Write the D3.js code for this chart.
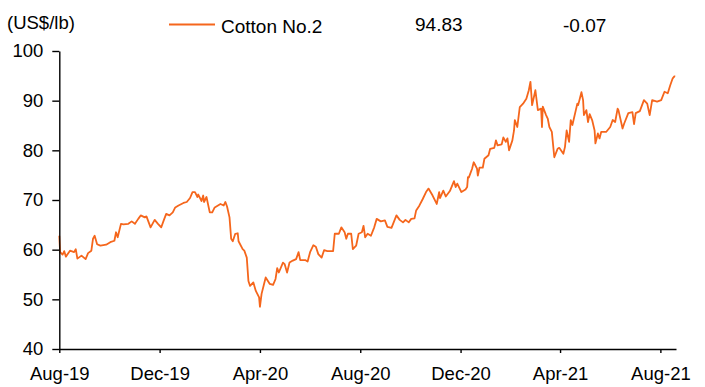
<!DOCTYPE html>
<html>
<head>
<meta charset="utf-8">
<script src="https://cdn.jsdelivr.net/npm/d3@7"></script>
<style>
  html, body { margin: 0; padding: 0; background: #fff; }
  svg { display: block; font-family: "Liberation Sans", Arial, sans-serif; }
</style>
</head>
<body>
<svg id="chart" width="705" height="387"></svg>
<script>
// Cotton No.2 front-month price, US cents per lb
const seriesName = "Cotton No.2";
const unitLabel = "(US$/lb)";

const dates = [
  "2019-08-01","2019-08-02","2019-08-05","2019-08-07","2019-08-09","2019-08-14","2019-08-19","2019-08-21","2019-08-23","2019-08-28",
  "2019-09-02","2019-09-05","2019-09-09","2019-09-11","2019-09-13","2019-09-16","2019-09-20","2019-09-27","2019-10-02","2019-10-07",
  "2019-10-09","2019-10-11","2019-10-15","2019-10-18","2019-10-24","2019-10-28","2019-11-01","2019-11-05","2019-11-08","2019-11-13",
  "2019-11-15","2019-11-20","2019-11-25","2019-11-29","2019-12-03","2019-12-06","2019-12-09","2019-12-13","2019-12-17","2019-12-20",
  "2019-12-24","2019-12-30","2020-01-03","2020-01-07","2020-01-10","2020-01-13","2020-01-16","2020-01-17","2020-01-21","2020-01-23",
  "2020-01-24","2020-01-27","2020-01-31","2020-02-03","2020-02-06","2020-02-10","2020-02-13","2020-02-17","2020-02-19","2020-02-21",
  "2020-02-24","2020-02-26","2020-02-28","2020-03-02","2020-03-05","2020-03-06","2020-03-11","2020-03-13","2020-03-16","2020-03-18",
  "2020-03-20","2020-03-24","2020-03-27","2020-03-31","2020-04-01","2020-04-03","2020-04-06","2020-04-08","2020-04-13","2020-04-17",
  "2020-04-20","2020-04-22","2020-04-24","2020-04-29","2020-05-01","2020-05-04","2020-05-07","2020-05-11","2020-05-15","2020-05-18",
  "2020-05-20","2020-05-26","2020-05-29","2020-06-01","2020-06-05","2020-06-08","2020-06-11","2020-06-15","2020-06-18","2020-06-22",
  "2020-06-29","2020-07-01","2020-07-06","2020-07-09","2020-07-13","2020-07-15","2020-07-17","2020-07-21","2020-07-23","2020-07-27",
  "2020-07-30","2020-08-03","2020-08-05","2020-08-07","2020-08-10","2020-08-14","2020-08-18","2020-08-21","2020-08-26","2020-08-31",
  "2020-09-03","2020-09-08","2020-09-14","2020-09-18","2020-09-22","2020-09-25","2020-09-29","2020-10-02","2020-10-06","2020-10-08",
  "2020-10-12","2020-10-16","2020-10-20","2020-10-23","2020-10-28","2020-11-02","2020-11-05","2020-11-06","2020-11-10","2020-11-13",
  "2020-11-18","2020-11-23","2020-11-25","2020-11-27","2020-12-02","2020-12-07","2020-12-09","2020-12-10","2020-12-11","2020-12-15",
  "2020-12-17","2020-12-21","2020-12-22","2020-12-24","2020-12-28","2020-12-30","2021-01-04","2021-01-06","2021-01-11","2021-01-13",
  "2021-01-15","2021-01-20","2021-01-22","2021-01-25","2021-01-27","2021-01-29","2021-02-02","2021-02-04","2021-02-05","2021-02-08",
  "2021-02-11","2021-02-15","2021-02-19","2021-02-22","2021-02-24","2021-02-25","2021-02-26","2021-03-02","2021-03-05","2021-03-09",
  "2021-03-10","2021-03-11","2021-03-15","2021-03-17","2021-03-19","2021-03-22","2021-03-23","2021-03-25","2021-03-29","2021-03-31",
  "2021-04-05","2021-04-07","2021-04-09","2021-04-12","2021-04-14","2021-04-16","2021-04-22","2021-04-23","2021-04-27","2021-04-29",
  "2021-04-30","2021-05-03","2021-05-05","2021-05-07","2021-05-10","2021-05-13","2021-05-14","2021-05-17","2021-05-19","2021-05-21",
  "2021-05-27","2021-06-01","2021-06-04","2021-06-07","2021-06-10","2021-06-11","2021-06-16","2021-06-18","2021-06-23","2021-06-28",
  "2021-06-30","2021-07-02","2021-07-07","2021-07-12","2021-07-16","2021-07-19","2021-07-22","2021-07-28","2021-08-02","2021-08-06",
  "2021-08-10","2021-08-13","2021-08-16","2021-08-18","2021-08-19"
];

const prices = [
  62.8,59.5,59.0,59.7,58.6,59.8,59.5,60.1,58.2,58.8,
  58.1,59.3,59.8,62.2,62.8,61.1,60.8,61.0,61.5,61.8,
  63.5,62.5,65.2,65.1,65.2,65.7,65.2,66.2,66.9,66.5,
  66.7,64.5,66.0,65.2,64.5,65.9,67.2,66.9,67.5,68.5,
  68.9,69.4,69.6,70.4,71.6,71.6,70.6,71.1,69.8,70.9,
  69.6,70.6,67.5,67.5,68.5,68.9,69.2,68.9,69.6,68.7,
  66.5,62.2,61.7,63.2,63.3,61.7,60.1,59.8,58.4,53.7,
  52.7,53.4,51.7,50.4,48.5,51.1,53.1,54.4,53.1,52.9,
  54.1,56.3,55.4,57.4,57.1,55.4,57.4,57.8,58.1,59.5,
  57.9,57.9,57.6,59.5,60.9,60.6,59.1,58.4,59.9,59.7,
  59.7,63.2,63.2,64.5,63.5,62.2,63.2,63.2,60.1,60.8,
  63.2,63.5,64.8,62.5,63.2,62.8,64.5,66.2,65.7,65.9,
  64.6,64.4,66.9,66.0,65.5,66.0,65.5,66.2,66.3,67.9,
  68.9,70.2,71.6,72.3,70.9,69.2,71.6,70.4,71.9,70.7,
  71.8,73.8,72.6,73.3,71.6,72.1,72.6,74.6,74.5,76.3,
  77.6,76.3,74.9,76.5,76.5,78.3,79.0,80.3,80.5,82.0,
  81.0,81.2,82.6,81.7,82.4,80.0,82.0,84.0,86.1,84.7,
  88.7,89.4,90.4,92.1,93.8,91.5,89.1,92.1,88.1,88.4,
  84.7,88.8,87.1,86.4,84.7,83.7,82.0,78.6,80.3,80.5,
  79.3,80.7,84.0,81.7,86.1,85.1,89.4,89.1,91.7,90.1,
  87.1,88.1,85.7,87.3,86.1,84.0,81.4,83.4,82.4,83.7,
  83.7,84.7,86.1,85.7,88.4,88.1,84.4,85.4,87.5,87.7,
  85.3,87.5,87.9,90.1,89.4,87.1,90.1,89.8,90.1,91.8,
  91.5,93.1,94.5,94.90,94.83
];

const yTicks = [40, 50, 60, 70, 80, 90, 100];
const xTickDates = ["2019-08-01","2019-12-01","2020-04-01","2020-08-01","2020-12-01","2021-04-01","2021-08-01"];
const xDomain = ["2019-08-01", "2021-08-20"];

const parse = d3.timeParse("%Y-%m-%d");
const data = dates.map((d, i) => ({ date: parse(d), value: prices[i] }));

const lineColor = "#F5661C";
const svg = d3.select("#chart");

const x = d3.scaleTime().domain(xDomain.map(parse)).range([59.3, 676]);
const y = d3.scaleLinear().domain([40, 100]).range([349, 51]);

// price line
svg.append("path")
  .datum(data)
  .attr("fill", "none")
  .attr("stroke", lineColor)
  .attr("stroke-width", 1.8)
  .attr("stroke-linejoin", "round")
  .attr("d", d3.line().x(d => x(d.date)).y(d => y(d.value)));

// y axis
const yAxis = svg.append("g")
  .attr("transform", "translate(59.3,0)")
  .call(d3.axisLeft(y).tickValues(yTicks).tickSize(7).tickSizeOuter(0).tickPadding(9));

// x axis
const xAxis = svg.append("g")
  .attr("transform", "translate(0,349)")
  .call(d3.axisBottom(x).tickValues(xTickDates.map(parse))
    .tickFormat(d3.timeFormat("%b-%y")).tickSize(4).tickSizeOuter(0).tickPadding(14));

[yAxis, xAxis].forEach(g => {
  g.select(".domain").attr("stroke", "#000").attr("stroke-width", 1.4);
  g.selectAll(".tick line").attr("stroke", "#000").attr("stroke-width", 1.4);
  g.selectAll(".tick text")
    .attr("fill", "#000")
    .style("font-size", "18.5px")
    .style("font-family", "'Liberation Sans', Arial, sans-serif");
});

// header: unit and legend with latest value and daily change
const last = prices[prices.length - 1];
const change = last - prices[prices.length - 2];

svg.append("text").attr("x", 7).attr("y", 28.5)
  .style("font-size", "18.5px").text(unitLabel);

svg.append("line")
  .attr("x1", 169).attr("x2", 215).attr("y1", 24.5).attr("y2", 24.5)
  .attr("stroke", lineColor).attr("stroke-width", 2);

svg.append("text").attr("x", 221).attr("y", 33)
  .style("font-size", "19px").text(seriesName);

svg.append("text").attr("x", 415).attr("y", 31)
  .style("font-size", "19px").text(last.toFixed(2));

svg.append("text").attr("x", 563).attr("y", 32)
  .style("font-size", "19px").text(change.toFixed(2));
</script>
</body>
</html>
